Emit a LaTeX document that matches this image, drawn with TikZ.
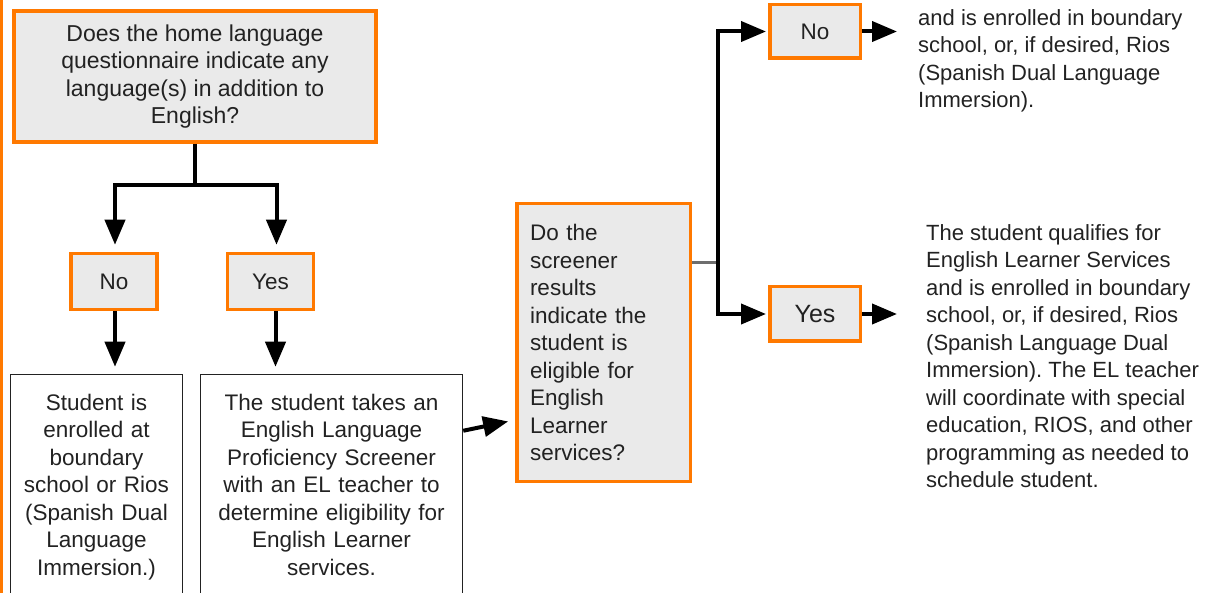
\documentclass[tikz,border=0pt]{standalone}
\usepackage{fontspec}
\setmainfont{Liberation Sans}
\usetikzlibrary{arrows.meta}
\definecolor{boxorange}{RGB}{255,121,0}
\definecolor{boxgray}{RGB}{234,234,234}
\definecolor{inkgray}{RGB}{34,34,34}
\definecolor{stubgray}{RGB}{110,110,110}
\frenchspacing

\begin{document}
\begin{tikzpicture}[x=1pt, y=-1pt,
  every node/.style={text=inkgray, font=\fontsize{22.5}{27.5}\selectfont, inner sep=0pt},
  ask/.style={draw=boxorange, fill=boxgray, line width=3.5pt, align=center},
  choice/.style={draw=boxorange, fill=boxgray, line width=3.5pt},
  stepbox/.style={draw=inkgray, line width=1.5pt, align=center, inner ysep=19.5pt, anchor=north},
  note/.style={align=left, anchor=north west, font=\fontsize{22}{27.5}\selectfont},
  arr/.style={-{Triangle[length=25pt,width=20pt]}, line width=4pt, black, shorten >=7pt}]
  \useasboundingbox (0,0) rectangle (1221,593);
  \clip (0,0) rectangle (1221,593);

  \draw[boxorange, line width=3.5pt] (1.5,0) -- (1.5,593);

  \node[ask, minimum width=362pt, minimum height=131pt, font=\fontsize{23}{27.5}\selectfont] (1) at (195,76.5) {Does the home language\\questionnaire indicate any\\language(s) in addition to\\English?};
  \node[choice, minimum width=86pt, minimum height=56pt] (2) at (114,281.5) {No};
  \node[choice, minimum width=86pt, minimum height=56pt] (3) at (270.5,281.5) {Yes};
  \node[stepbox, text width=172pt] (7) at (96.5,373.75) {Student is\\enrolled at\\boundary\\school or Rios\\(Spanish Dual\\Language\\Immersion.)};
  \node[stepbox, text width=262pt] (8) at (331.5,373.75) {The student takes an\\English Language\\Proficiency Screener\\with an EL teacher to\\determine eligibility for\\English Learner\\services.};
  \node[ask, align=left, text width=147pt, inner xsep=13.25pt, minimum height=277.5pt] (4) at (603.5,342.5) {Do the\\screener\\results\\indicate the\\student is\\eligible for\\English\\Learner\\services?};
  \node[choice, minimum width=90.5pt, minimum height=53.5pt] (5) at (815,31.5) {No};
  \node[choice, minimum width=90.5pt, minimum height=54.5pt, font=\fontsize{25}{30}\selectfont] (6) at (815,314) {Yes};
  \node[note] (9) at (918,9) {and is enrolled in boundary\\school, or, if desired, Rios\\(Spanish Dual Language\\Immersion).};
  \node[note] (10) at (926,224) {The student qualifies for\\English Learner Services\\and is enrolled in boundary\\school, or, if desired, Rios\\(Spanish Language Dual\\Immersion). The EL teacher\\will coordinate with special\\education, RIOS, and other\\programming as needed to\\schedule student.};

  \coordinate (a) at (195,185);
  \coordinate (b) at (718,263);
  \coordinate (c) at (904,31.5);
  \coordinate (d) at (904,314);

  \draw[line width=4pt] (1.south) -- (a);
  \draw[arr] (a) -| ([xshift=1pt]2.north);
  \draw[arr] (a) -| ([xshift=6pt]3.north);
  \draw[arr] ([xshift=1pt]2.south) -- ([xshift=1pt]2.south |- 7.north);
  \draw[arr] ([xshift=5pt]3.south) -- ([xshift=5pt]3.south |- 8.north);
  \draw[arr] ([yshift=-57pt]8.north east) -- ([yshift=-77.5pt]4.west);
  \draw[stubgray, line width=3pt] ([yshift=79.5pt]4.east) -- (b);
  \draw[arr, shorten >=2pt] (b) |- (5.west);
  \draw[arr, shorten >=2pt] (b) |- (6.west);
  \draw[arr] (5) -- (c);
  \draw[arr] (6) -- (d);
\end{tikzpicture}
\end{document}
